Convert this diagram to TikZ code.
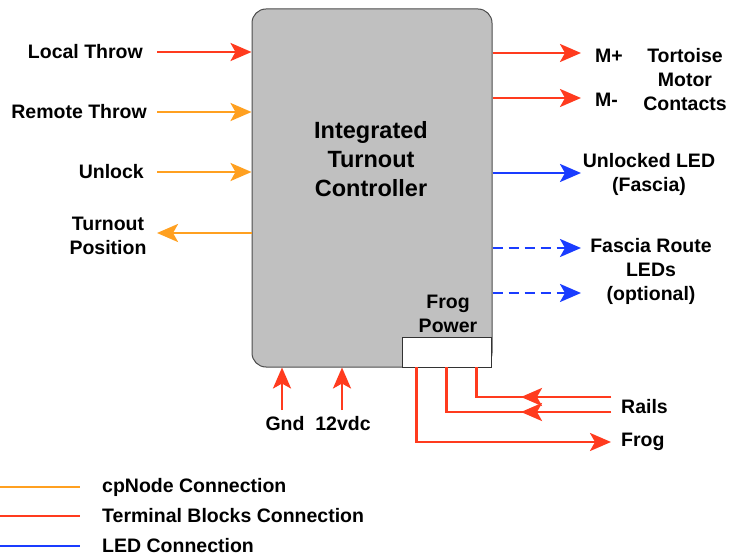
\documentclass[tikz,border=0pt]{standalone}
\usepackage{fontspec}
\setmainfont{Liberation Sans}
\usetikzlibrary{arrows.meta}
\definecolor{cred}{HTML}{FF3B1E}
\definecolor{corange}{HTML}{FFA020}
\definecolor{cblue}{HTML}{1A3CFF}
\definecolor{cgray}{HTML}{C0C0C0}
\begin{document}
\begin{tikzpicture}[x=1pt,y=-1pt,
  lbl/.style={font=\fontsize{19.5}{24}\selectfont\bfseries, inner sep=0pt, align=center},
  conn/.style={line width=2.8pt, -{Stealth[length=21pt,width=18pt,inset=5pt]}},
  tb/.style={conn, draw=cred},
  cp/.style={conn, draw=corange},
  led/.style={conn, draw=cblue},
  legline/.style={line width=2.8pt}
]
\useasboundingbox (0,0) rectangle (734,556);
% controller box
\node[draw=black!70, line width=1pt, fill=cgray, rounded corners=14pt, minimum width=240pt, minimum height=358pt, inner sep=0pt] (ctrl) at (372,188) {};
\node[lbl, font=\fontsize{23.5}{29.3}\selectfont\bfseries] (title) at (371,159) {Integrated\\Turnout\\Controller};
\node[draw=black!80, line width=1pt, fill=white, minimum width=89pt, minimum height=30pt, inner sep=0pt] (frog) at (446.5,352) {};
\node[lbl] (frogt) at (448,314) {Frog\\Power};

% left inputs
\node[lbl, anchor=east] (lt) at (143,52) {Local Throw};
\node[lbl, anchor=east] (rt) at (147,112) {Remote Throw};
\node[lbl, anchor=east] (ul) at (144,172) {Unlock};
\node[lbl] (tp) at (108,236) {Turnout\\Position};
\coordinate (ltS) at (157,52);
\coordinate (rtS) at (157,112);
\coordinate (ulS) at (157,172);
\coordinate (tpE) at (157,233);
\draw[tb] (ltS) -- (ctrl.west |- ltS);
\draw[cp] (rtS) -- (ctrl.west |- rtS);
\draw[cp] (ulS) -- (ctrl.west |- ulS);
\draw[cp] (ctrl.west |- tpE) -- (tpE);

% right outputs
\coordinate (mpE) at (581,53);
\coordinate (mmE) at (581,98);
\coordinate (ulE) at (581,173);
\coordinate (f1E) at (581,248);
\coordinate (f2E) at (581,293);
\draw[tb] (ctrl.east |- mpE) -- (mpE);
\draw[tb] (ctrl.east |- mmE) -- (mmE);
\draw[led] (ctrl.east |- ulE) -- (ulE);
\draw[led, dash pattern=on 10pt off 6pt] (ctrl.east |- f1E) -- (f1E);
\draw[led, dash pattern=on 10pt off 6pt] (ctrl.east |- f2E) -- (f2E);
\node[lbl, anchor=west] (mp) at (595,56) {M+};
\node[lbl, anchor=west] (mm) at (595,100) {M-};
\node[lbl] (tort) at (685,80) {Tortoise\\Motor\\Contacts};
\node[lbl] (uled) at (649,174) {Unlocked LED\\(Fascia)};
\node[lbl] (fr) at (651,271) {Fascia Route\\LEDs\\(optional)};

% bottom power
\node[lbl] (gnd) at (285,424) {Gnd};
\node[lbl] (v12) at (343,424) {12vdc};
\coordinate (gndS) at (282,410);
\coordinate (v12S) at (342,410);
\draw[tb] (gndS) -- (gndS |- ctrl.south);
\draw[tb] (v12S) -- (v12S |- ctrl.south);

% frog / rails wiring
\node[lbl, anchor=west] (rails) at (621,407) {Rails};
\node[lbl, anchor=west] (frogl) at (621,442) {Frog};
\coordinate (r1) at (611,397);
\coordinate (r2) at (611,412);
\coordinate (fg) at (611,442);
\draw[line width=2.8pt, cred] (r1) -- (476.5,397) -- (476.5,367);
\draw[tb] (r1) -- (521,397);
\draw[line width=2.8pt, cred] (r2) -- (446.5,412) -- (446.5,367);
\draw[tb] (r2) -- (521,412);
\draw[tb] (416.5,367) -- (416.5,442) -- (fg);

% legend
\coordinate (l1) at (0,487);
\coordinate (l2) at (0,516);
\coordinate (l3) at (0,546);
\draw[legline, corange] (l1) -- ++(80,0);
\draw[legline, cred] (l2) -- ++(80,0);
\draw[legline, cblue] (l3) -- ++(80,0);
\node[lbl, anchor=west] (lg1) at (102,487) {cpNode Connection};
\node[lbl, anchor=west] (lg2) at (102,516) {Terminal Blocks Connection};
\node[lbl, anchor=west] (lg3) at (102,546) {LED Connection};
\end{tikzpicture}
\end{document}
